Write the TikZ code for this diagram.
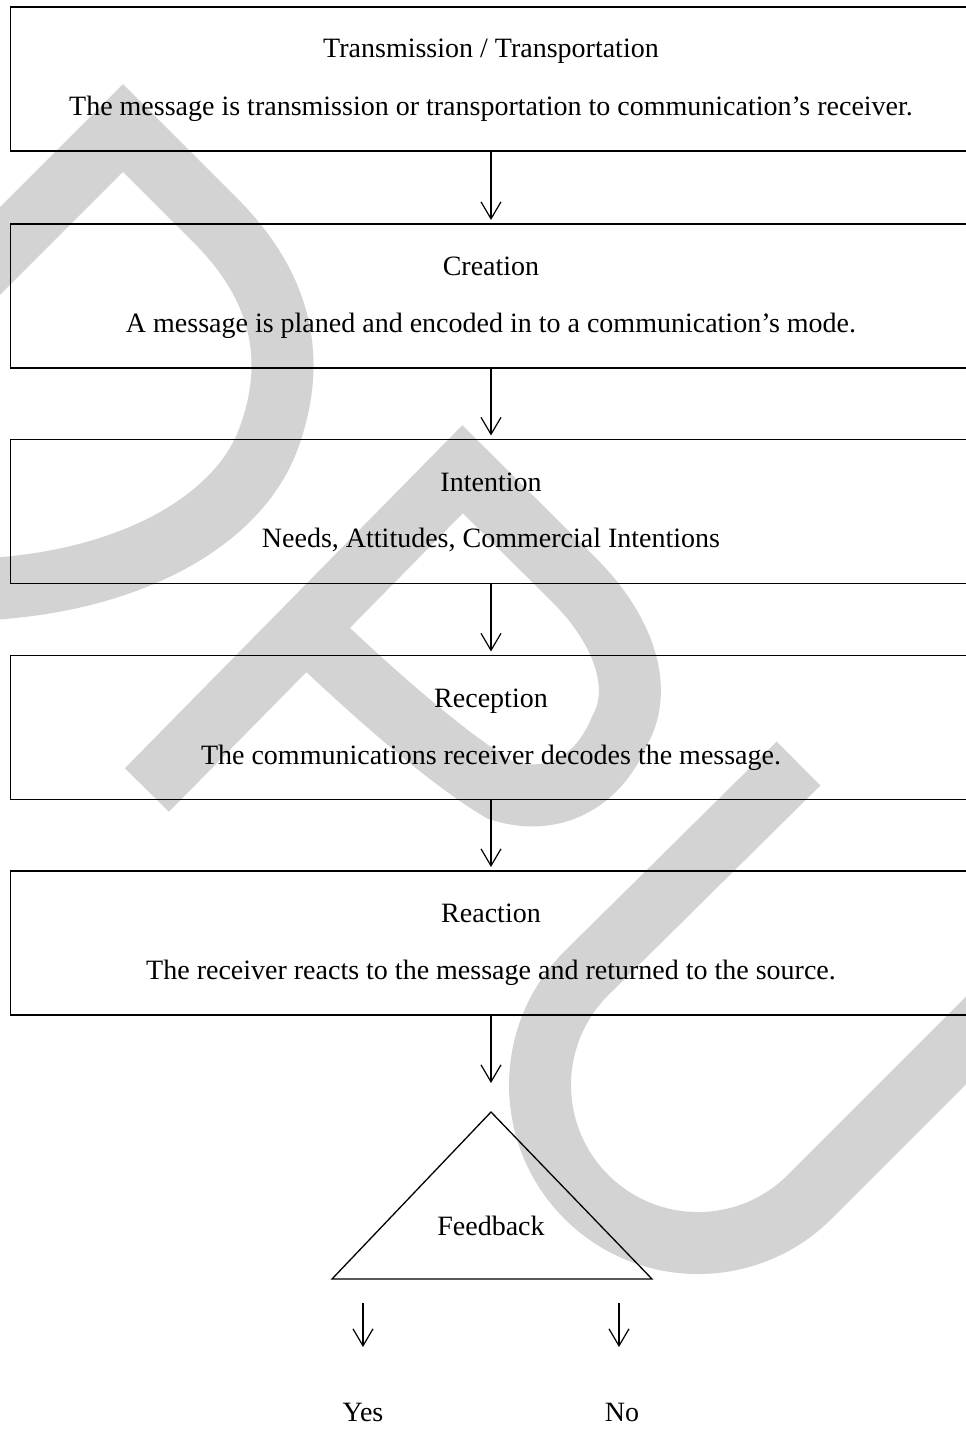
\documentclass[tikz,border=0pt]{standalone}
\usepackage{fontspec}
\setmainfont{Liberation Serif}
\usetikzlibrary{arrows.meta}
\definecolor{wm}{RGB}{211,211,211}
\begin{document}
\begin{tikzpicture}[x=1pt,y=-1pt,
  box/.style={draw, line width=1.6pt, minimum width=964.5pt, minimum height=144pt, inner sep=0pt, outer sep=0pt},
  txt/.style={font=\fontsize{28}{34}\selectfont, inner sep=0pt, anchor=base},
  arr/.style={line width=1.2pt, -{Straight Barb[length=17pt,width=20pt,line width=1.2pt]}},
  tri/.style={draw, line width=1.3pt},
  wmline/.style={draw=wm, line width=62pt}]
\useasboundingbox (0,0) rectangle (966,1429);
\clip (0,0) rectangle (966,1429);
% watermark
\draw[wmline] (-30,281) -- (123,128) -- (215,220) .. controls (282,287) and (298,360) .. (268,440) .. controls (238,520) and (130,585) .. (-30,590);
\draw[wmline] (146.9,790) -- (462.6,469.2) -- (575,581) .. controls (620,626) and (645,685) .. (620,730) .. controls (595,790) and (545,805) .. (500,790) .. controls (450,760) and (380,700) .. (305,628);
\draw[wmline] (798.5,763.5) -- (586.3,973.3) arc[start angle=225, end angle=45, radius=158] -- (1050,956.4);
% boxes
\node[box] (b1) at (492.75,79) {};
\node[box] (b2) at (492.75,296) {};
\node[box] (b3) at (492.75,511.5) {};
\node[box] (b4) at (492.75,727.5) {};
\node[box] (b5) at (492.75,943) {};
% texts
\node[txt] (t1a) at (491,58) {Transmission / Transportation};
\node[txt] (t1b) at (491,115) {The message is transmission or transportation to communication’s receiver.};
\node[txt] (t2a) at (491,275) {Creation};
\node[txt] (t2b) at (491,332) {A message is planed and encoded in to a communication’s mode.};
\node[txt] (t3a) at (491,491) {Intention};
\node[txt] (t3b) at (491,547) {Needs, Attitudes, Commercial Intentions};
\node[txt] (t4a) at (491,707) {Reception};
\node[txt] (t4b) at (491,764) {The communications receiver decodes the message.};
\node[txt] (t5a) at (491,922) {Reaction};
\node[txt] (t5b) at (491,979) {The receiver reacts to the message and returned to the source.};
% arrows between boxes
\draw[arr, shorten >=4pt] (b1.south -| t1a) -- (b2.north -| t1a);
\draw[arr, shorten >=4pt] (b2.south -| t1a) -- (b3.north -| t1a);
\draw[arr, shorten >=4pt] (b3.south -| t1a) -- (b4.north -| t1a);
\draw[arr, shorten >=4pt] (b4.south -| t1a) -- (b5.north -| t1a);
% feedback triangle
\coordinate (apex) at (491,1112);
\coordinate (bl) at (332,1279);
\coordinate (br) at (652,1279);
\draw[tri] (apex) -- (br) -- (bl) -- cycle;
\node[txt] (fb) at (491,1235) {Feedback};
\draw[arr, shorten >=29pt] (b5.south -| apex) -- (apex);
% yes / no
\coordinate (ys) at (363,1303);
\coordinate (ye) at (363,1347);
\coordinate (ns) at (619,1303);
\coordinate (ne) at (619,1347);
\draw[arr] (ys) -- (ye);
\draw[arr] (ns) -- (ne);
\node[txt] (yes) at (363,1421) {Yes};
\node[txt] (no) at (622,1421) {No};
\end{tikzpicture}
\end{document}
